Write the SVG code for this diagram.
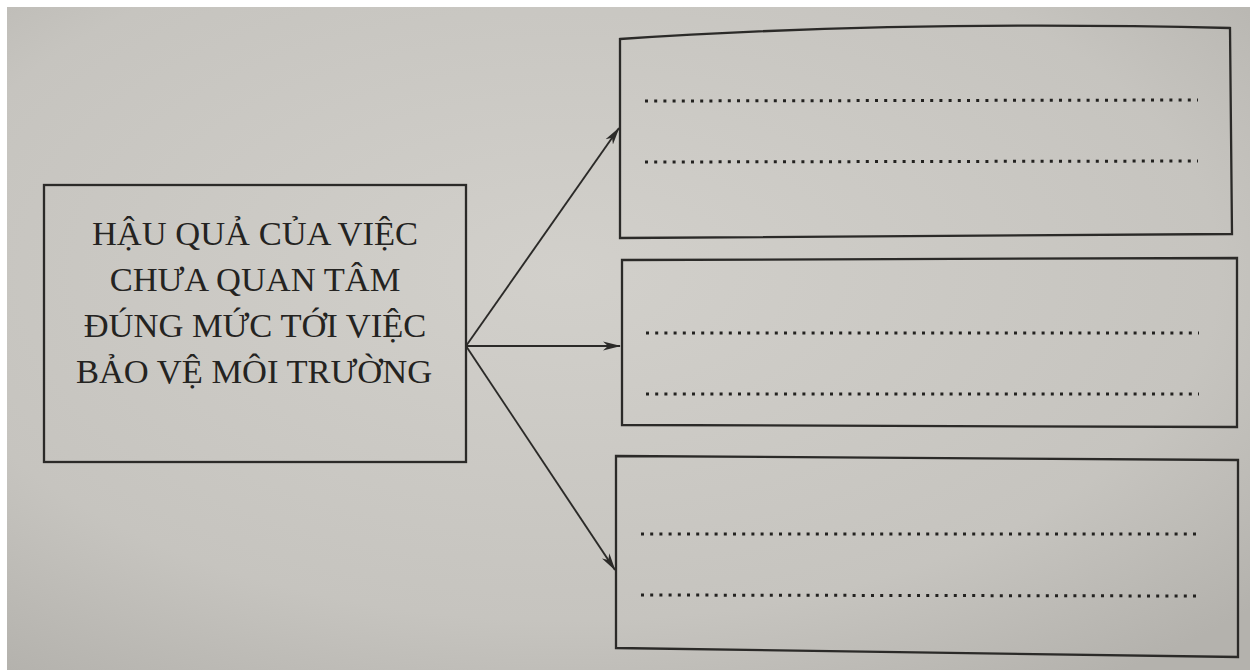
<svg xmlns="http://www.w3.org/2000/svg" width="1250" height="670" viewBox="0 0 1250 670">
  <defs>
    <radialGradient id="paper" cx="0.45" cy="0.4" r="0.75">
      <stop offset="0" stop-color="#d2d0cb"/>
      <stop offset="0.7" stop-color="#c6c4bf"/>
      <stop offset="1" stop-color="#b4b2ad"/>
    </radialGradient>
    <marker id="arrow" viewBox="0 0 18 10" refX="17" refY="5" markerWidth="18" markerHeight="10" markerUnits="userSpaceOnUse" orient="auto">
      <path d="M0,0.5 L18,5 L0,9.5 L5,5 Z" fill="#2b2a28"/>
    </marker>
    <style>
      .box { fill: none; stroke: #2b2a28; stroke-width: 2.3; stroke-linejoin: miter; }
      .conn { fill: none; stroke: #2b2a28; stroke-width: 1.9; }
      .dots { fill: none; stroke: #232220; stroke-width: 3; stroke-dasharray: 3 6.2; }
      .label { font-family: "Liberation Serif", "Times New Roman", serif; font-size: 34.5px; fill: #242321; text-anchor: middle; }
    </style>
  </defs>

  <rect x="0" y="0" width="1250" height="670" fill="#ffffff"/>
  <rect x="7" y="7" width="1243" height="663" fill="url(#paper)"/>

  <g id="source">
    <rect class="box" x="44" y="185" width="422" height="277"/>
    <text class="label" x="255" y="245">HẬU QUẢ CỦA VIỆC</text>
    <text class="label" x="255" y="291">CHƯA QUAN TÂM</text>
    <text class="label" x="255" y="337">ĐÚNG MỨC TỚI VIỆC</text>
    <text class="label" x="254" y="383">BẢO VỆ MÔI TRƯỜNG</text>
  </g>

  <g id="result1">
    <path class="box" d="M620,39 Q900,20 1230,28 L1232,234 L620,238 Z"/>
    <line class="dots" x1="645" y1="101" x2="1198" y2="100"/>
    <line class="dots" x1="645" y1="162" x2="1198" y2="161"/>
  </g>

  <g id="result2">
    <path class="box" d="M622,260 L1237,258 L1237,427 L622,425 Z"/>
    <line class="dots" x1="646" y1="333" x2="1199" y2="333"/>
    <line class="dots" x1="646" y1="394" x2="1199" y2="394"/>
  </g>

  <g id="result3">
    <path class="box" d="M616,456 L1238,460 L1238,657 L616,648 Z"/>
    <line class="dots" x1="641" y1="534" x2="1196" y2="534"/>
    <line class="dots" x1="641" y1="595" x2="1196" y2="596"/>
  </g>

  <g id="connectors">
    <line class="conn" x1="466" y1="346" x2="619" y2="128" marker-end="url(#arrow)"/>
    <line class="conn" x1="466" y1="346" x2="620" y2="346" marker-end="url(#arrow)"/>
    <line class="conn" x1="466" y1="346" x2="615" y2="570" marker-end="url(#arrow)"/>
  </g>
</svg>
